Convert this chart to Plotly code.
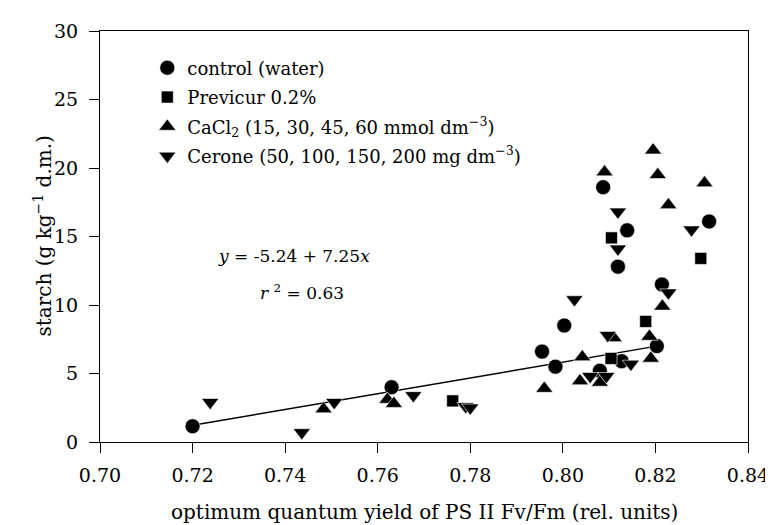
import plotly.graph_objects as go

# ---- data ----
control_x = [0.7200, 0.7630, 0.7955, 0.7984, 0.8003, 0.8080, 0.8087, 0.8119, 0.8127, 0.8139, 0.8203, 0.8214, 0.8316]
control_y = [1.15, 4.0, 6.6, 5.5, 8.5, 5.2, 18.6, 12.8, 5.9, 15.45, 7.0, 11.5, 16.1]

previcur_x = [0.7762, 0.8104, 0.8105, 0.8179, 0.8298]
previcur_y = [3.0, 6.1, 14.9, 8.8, 13.4]

cacl2_x = [0.7483, 0.7621, 0.7635, 0.7960, 0.8037, 0.8042, 0.8080, 0.8110, 0.8187, 0.8190,
           0.8215, 0.8228, 0.8205, 0.8195, 0.8090, 0.8306]
cacl2_y = [2.4, 3.1, 2.8, 3.9, 4.45, 6.2, 4.35, 7.6, 7.7, 6.1,
           9.9, 17.3, 19.5, 21.3, 19.7, 18.9]

cerone_x = [0.7238, 0.7436, 0.7506, 0.7677, 0.7790, 0.7800, 0.8025, 0.8059, 0.8094, 0.8097,
            0.8147, 0.8119, 0.8119, 0.8228, 0.8278]
cerone_y = [2.9, 0.7, 2.9, 3.4, 2.6, 2.5, 10.4, 4.8, 4.8, 7.8,
            5.7, 16.8, 14.1, 10.9, 15.5]

fit_x = [0.72, 0.82]
fit_y = [1.22, 6.98]

x_ticks = [0.70, 0.72, 0.74, 0.76, 0.78, 0.80, 0.82, 0.84]
x_ticklabels = ["0.70", "0.72", "0.74", "0.76", "0.78", "0.80", "0.82", "0.84"]
y_ticks = [0, 5, 10, 15, 20, 25, 30]

series_names = [
    "control (water)",
    "Previcur 0.2%",
    "CaCl<sub>2</sub> (15, 30, 45, 60 mmol dm<sup>\u22123</sup>)",
    "Cerone (50, 100, 150, 200 mg dm<sup>\u22123</sup>)",
]

FONT = "DejaVu Serif"

fig = go.Figure()

fig.add_trace(go.Scatter(x=fit_x, y=fit_y, mode="lines",
                         line=dict(color="black", width=1.5), showlegend=False,
                         hoverinfo="skip"))

specs = [
    (control_x, control_y, "circle", 15),
    (previcur_x, previcur_y, "square", 12),
    (cacl2_x, cacl2_y, "triangle-up", 15),
    (cerone_x, cerone_y, "triangle-down", 15),
]
for i, ((xs, ys, sym, sz), name) in enumerate(zip(specs, series_names)):
    fig.add_trace(go.Scatter(
        x=xs, y=ys, mode="markers", name=name, legendgroup=f"g{i}",
        marker=dict(symbol=sym, size=sz, color="black",
                    line=dict(color="white", width=0.6)),
    ))

fig.update_layout(
    width=773, height=525,
    margin=dict(l=92, r=20, t=17, b=91),
    paper_bgcolor="white", plot_bgcolor="white",
    font=dict(family=FONT, size=17, color="black"),
    showlegend=True,
    legend=dict(x=0.073, y=0.955, xanchor="left", yanchor="top",
                bgcolor="rgba(0,0,0,0)", borderwidth=0,
                font=dict(family=FONT, size=18, color="black"),
                itemsizing="trace", tracegroupgap=3),
    xaxis=dict(range=[0.70, 0.84], tickvals=x_ticks, ticktext=x_ticklabels,
               showgrid=False, zeroline=False, showline=True, linecolor="black",
               linewidth=1.2, mirror=True, ticks="outside", ticklen=10,
               tickcolor="black", tickwidth=1.2, ticklabelstandoff=6,
               ticklabeloverflow="allow",
               tickfont=dict(family=FONT, size=19)),
    yaxis=dict(range=[0, 30], tickvals=y_ticks,
               showgrid=False, zeroline=False, showline=True, linecolor="black",
               linewidth=1.2, mirror=True, ticks="outside", ticklen=10,
               tickcolor="black", tickwidth=1.2, ticklabelstandoff=7,
               tickfont=dict(family=FONT, size=19)),
    annotations=[
        dict(text="optimum quantum yield of PS II Fv/Fm (rel. units)",
             xref="paper", yref="paper", x=0.5, y=0, yshift=-70,
             xanchor="center", yanchor="middle", showarrow=False,
             font=dict(family=FONT, size=20)),
        dict(text="starch (g kg<sup>\u22121</sup> d.m.)",
             xref="paper", yref="paper", x=0, y=0.5, xshift=-58,
             xanchor="center", yanchor="middle", textangle=-90, showarrow=False,
             font=dict(family=FONT, size=20)),
        dict(text="<i>y</i> = -5.24 + 7.25<i>x</i>",
             xref="x", yref="y", x=0.7419, y=13.6,
             xanchor="center", yanchor="middle", showarrow=False,
             font=dict(family=FONT, size=17)),
        dict(text="<i>r</i> <sup>2</sup> = 0.63",
             xref="x", yref="y", x=0.7436, y=10.96,
             xanchor="center", yanchor="middle", showarrow=False,
             font=dict(family=FONT, size=17)),
    ],
)

fig.write_html("out.html")
